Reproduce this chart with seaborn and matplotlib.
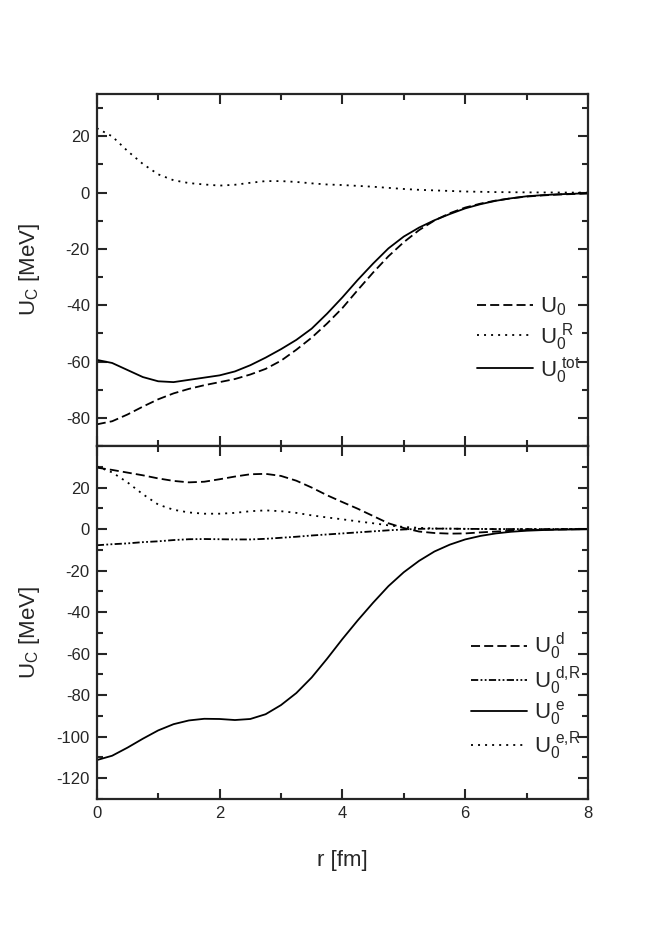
import numpy as np
import pandas as pd
import matplotlib
matplotlib.use('Agg')
import matplotlib.pyplot as plt
import seaborn as sns
from matplotlib.ticker import MultipleLocator

# radial grid [fm]
r = [0.0, 0.25, 0.5, 0.75, 1.0, 1.25, 1.5, 1.75, 2.0, 2.25, 2.5, 2.75, 3.0,
     3.25, 3.5, 3.75, 4.0, 4.25, 4.5, 4.75, 5.0, 5.25, 5.5, 5.75, 6.0,
     6.25, 6.5, 6.75, 7.0, 7.25, 7.5, 7.75, 8.0]

# upper panel
u0 = [-82.3, -81.2, -78.8, -76.0, -73.4, -71.3, -69.7, -68.4, -67.3, -66.2,
      -64.6, -62.6, -59.7, -55.8, -51.5, -46.5, -41.0, -34.6, -28.4, -22.6,
      -17.6, -13.3, -9.9, -7.3, -5.3, -3.9, -2.8, -2.0, -1.4, -1.0, -0.7,
      -0.5, -0.3]
u0_r = [22.9, 20.0, 14.8, 10.2, 6.5, 4.4, 3.4, 2.9, 2.5, 2.8, 3.5, 4.1, 4.1,
        3.8, 3.3, 2.9, 2.7, 2.4, 2.1, 1.7, 1.3, 1.0, 0.8, 0.6, 0.4, 0.3, 0.2,
        0.15, 0.1, 0.07, 0.05, 0.02, 0.0]
u0_tot = [-59.4, -60.5, -63.0, -65.5, -67.0, -67.3, -66.5, -65.7, -64.9,
          -63.5, -61.3, -58.6, -55.6, -52.3, -48.3, -43.0, -37.2, -31.0,
          -25.2, -19.8, -15.6, -12.4, -9.8, -7.6, -5.6, -4.1, -2.9, -2.0,
          -1.3, -0.9, -0.6, -0.4, -0.2]

# lower panel
u0_d = [29.6, 28.5, 27.2, 25.9, 24.4, 23.2, 22.5, 22.8, 24.0, 25.3, 26.4,
        26.6, 25.6, 23.3, 20.0, 16.3, 13.0, 9.8, 6.3, 2.8, 0.5, -1.2, -1.9,
        -2.2, -2.1, -1.6, -1.2, -0.8, -0.5, -0.3, -0.2, -0.1, 0.0]
u0_dr = [-7.8, -7.3, -6.9, -6.3, -5.9, -5.3, -4.9, -4.8, -4.9, -5.0, -5.0,
         -4.7, -4.2, -3.7, -3.1, -2.6, -2.1, -1.6, -1.1, -0.6, -0.2, 0.1,
         0.2, 0.2, 0.1, 0.05, 0.0, 0.0, 0.0, 0.0, 0.0, 0.0, 0.0]
u0_e = [-111.3, -109.2, -105.3, -101.0, -97.0, -94.0, -92.2, -91.4, -91.5,
        -92.0, -91.5, -89.2, -84.8, -79.0, -71.5, -62.5, -53.0, -44.0, -35.5,
        -27.5, -20.8, -15.3, -10.8, -7.5, -5.0, -3.3, -2.1, -1.3, -0.8, -0.5,
        -0.3, -0.2, -0.1]
u0_er = [30.2, 27.3, 22.5, 16.8, 11.8, 9.3, 8.0, 7.4, 7.4, 7.8, 8.6, 9.0,
         8.6, 7.8, 6.6, 5.6, 4.7, 3.7, 2.8, 1.8, 1.0, 0.6, 0.3, 0.2, 0.1,
         0.05, 0.0, 0.0, 0.0, 0.0, 0.0, 0.0, 0.0]

top_names = [r'$\mathregular{U_0}$', r'$\mathregular{U_0^{\ R}}$',
             r'$\mathregular{U_0^{\ tot}}$']
bot_names = [r'$\mathregular{U_0^{\ d}}$', r'$\mathregular{U_0^{\ d{,}R}}$',
             r'$\mathregular{U_0^{\ e}}$', r'$\mathregular{U_0^{\ e{,}R}}$']
top_yticks = [-80, -60, -40, -20, 0, 20]
bot_yticks = [-120, -100, -80, -60, -40, -20, 0, 20]

DASH = (5.0, 2.3)
DOT = (1.1, 2.8)
DASHDOTDOT = (4.0, 1.3, 1.0, 1.3, 1.0, 1.3)
SOLID = ''


def long_frame(names, series):
    parts = [pd.DataFrame({'r': r, 'U': s, 'curve': n}) for n, s in zip(names, series)]
    return pd.concat(parts, ignore_index=True)


def style_axis(ax, ylim, yticks, show_x, label_y):
    ax.set_xlim(0, 8)
    ax.set_ylim(*ylim)
    ax.xaxis.set_major_locator(MultipleLocator(2))
    ax.xaxis.set_minor_locator(MultipleLocator(1))
    ax.set_yticks(yticks)
    ax.yaxis.set_minor_locator(MultipleLocator(10))
    ax.tick_params(which='both', direction='in', top=True, right=True,
                   width=1.5, labelsize=12, labelbottom=show_x)
    ax.tick_params(which='major', length=7, pad=5)
    ax.tick_params(which='minor', length=4)
    for sp in ax.spines.values():
        sp.set_linewidth(1.6)
    ax.set_ylabel(r'$\mathregular{U_C}$ [MeV]', fontsize=16)
    ax.yaxis.set_label_coords(-0.112, label_y)
    ax.set_xlabel('r [fm]' if show_x else '', fontsize=16, labelpad=21)


sns.set_style('ticks')
plt.rcParams['font.family'] = ['Liberation Sans', 'DejaVu Sans']
plt.rcParams['mathtext.fontset'] = 'custom'
plt.rcParams['mathtext.rm'] = 'Liberation Sans'
plt.rcParams['axes.unicode_minus'] = False

fig = plt.figure(figsize=(6.54, 9.41), dpi=100)
ax_top = fig.add_axes([0.148, 0.526, 0.751, 0.374])
ax_bot = fig.add_axes([0.148, 0.151, 0.751, 0.375])

top_df = long_frame(top_names, [u0, u0_r, u0_tot])
sns.lineplot(data=top_df, x='r', y='U', style='curve', style_order=top_names,
             dashes=dict(zip(top_names, [DASH, DOT, SOLID])),
             color='black', linewidth=1.3, ax=ax_top)

bot_df = long_frame(bot_names, [u0_d, u0_dr, u0_e, u0_er])
sns.lineplot(data=bot_df, x='r', y='U', style='curve', style_order=bot_names,
             dashes=dict(zip(bot_names, [DASH, DASHDOTDOT, SOLID, DOT])),
             color='black', linewidth=1.3, ax=ax_bot)

style_axis(ax_top, (-90, 35), top_yticks, False, 0.5)
style_axis(ax_bot, (-130, 40), bot_yticks, True, 0.47)

for ax, anchor in ((ax_top, (1.016, 0.13)), (ax_bot, (1.016, 0.06))):
    h, l = ax.get_legend_handles_labels()
    ax.legend(h, l, loc='lower right', bbox_to_anchor=anchor, frameon=False,
              fontsize=16, handlelength=2.5, handletextpad=0.3,
              labelspacing=0.1, borderaxespad=0.3)

fig.savefig('out.png', dpi=100)
plt.close(fig)
